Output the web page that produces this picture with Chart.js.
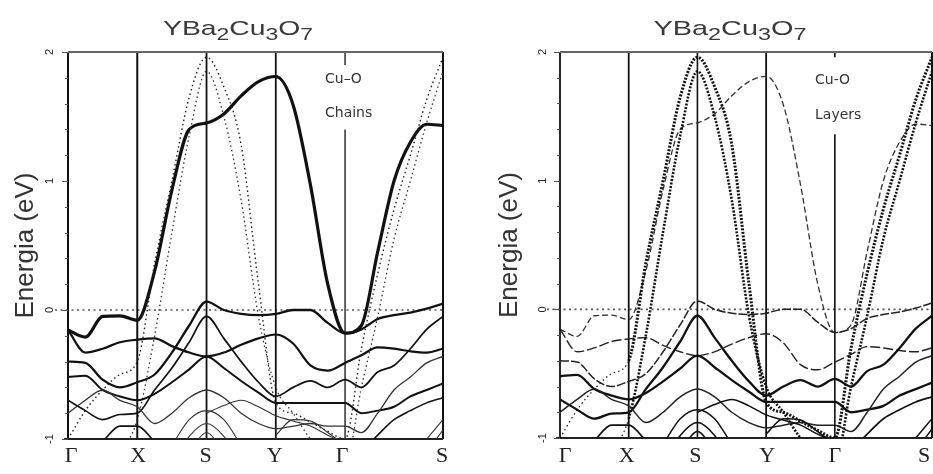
<!DOCTYPE html>
<html>
<head>
<meta charset="utf-8">
<script src="https://cdn.jsdelivr.net/npm/chart.js@4/dist/chart.umd.min.js"></script>
<style>
  html, body { margin: 0; padding: 0; background: #fff; }
  #wrap { position: relative; width: 933px; height: 474px; overflow: hidden; }
  canvas { position: absolute; top: 0; }
</style>
</head>
<body>
<div id="wrap">
  <canvas id="chains" width="466" height="474" style="left:0"></canvas>
  <canvas id="layers" width="467" height="474" style="left:466px"></canvas>
</div>
<script>
// k-path: G-X-S-Y-G-S (G-S is the diagonal, sqrt(2) long)
const _ = null;
const kPath = [0, 0.25, 0.5, 0.75, 1, 1.25, 1.5, 1.75, 2, 2.25, 2.5, 2.75, 3, 3.25, 3.5, 3.75, 4, 4.236, 4.471, 4.707, 4.943, 5.178, 5.414];
const kMarks = [0, 1, 2, 3, 4, 5.414];
const kLabels = ['Γ', 'X', 'S', 'Y', 'Γ', 'S'];
const energyTicks = [-1, 0, 1, 2];
const yAxisTitle = 'Energia (eV)';
const formula = [['YBa', false], ['2', true], ['Cu', false], ['3', true], ['O', false], ['7', true]];

// band energies (eV) read at every kPath point
const bandChain  = [-0.155, -0.21, -0.05, -0.045, -0.08, 0.30, 0.93, 1.40, 1.45, 1.52, 1.66, 1.77, 1.81, 1.59, 0.97, 0.20, -0.18, -0.12, 0.45, 1.00, 1.30, 1.44, 1.43];
const bandLayerA = [-1.0, -0.78, -0.62, -0.50, -0.40, 0.36, 1.00, 1.65, 1.96, 1.73, 1.28, 0.20, -0.72, -0.80, -0.87, -0.94, -1.0, -0.30, 0.28, 0.78, 1.20, 1.63, 1.96];
const bandLayerB = [-1.3, -1.25, -1.2, -1.1, -0.85, -0.20, 0.60, 1.35, 1.85, 1.50, 0.85, -0.05, -0.60, -0.80, -1.0, -1.15, -1.2, -0.60, -0.05, 0.55, 1.00, 1.45, 1.85];
const bandP      = [-0.40, -0.41, -0.54, -0.60, -0.56, -0.50, -0.33, -0.12, 0.065, 0.0, -0.03, -0.04, -0.03, 0.0, 0.0, -0.10, -0.18, -0.15, -0.07, -0.04, -0.02, 0.01, 0.05];
const band2      = [-0.155, -0.33, -0.30, -0.25, -0.23, -0.22, -0.28, -0.33, -0.36, -0.33, -0.27, -0.22, -0.19, -0.26, -0.43, -0.47, -0.41, -0.35, -0.29, -0.30, -0.32, -0.33, -0.30];
const band4      = [-0.70, -0.78, -0.85, -0.81, -0.80, -0.62, -0.45, -0.25, -0.05, -0.22, -0.40, -0.56, -0.67, -0.60, -0.55, -0.60, -0.54, -0.60, -0.48, -0.43, -0.30, -0.15, -0.05];
const band5      = [-0.52, -0.51, -0.62, -0.67, -0.70, -0.65, -0.56, -0.46, -0.36, -0.45, -0.55, -0.64, -0.72, -0.72, -0.72, -0.72, -0.72, -0.80, -0.78, -0.75, -0.67, -0.62, -0.57];
const band6      = [-0.80, -0.70, -0.62, -0.70, -0.75, -0.88, -0.80, -0.68, -0.62, -0.68, -0.80, -0.88, -0.92, -0.90, -0.88, -0.90, -0.90, -0.95, -0.80, -0.62, -0.52, -0.41, -0.36];
const band7      = [_, _, -1.02, -0.90, -0.90, -1.02, _, _, _, _, _, _, _, _, _, _, _, -1.10, -0.97, -0.85, -0.78, -0.72, -0.68];
const band8      = [_, _, _, _, _, _, _, _, -0.80, -0.74, -0.70, -0.75, -0.82, -0.86, -0.90, -0.97, -1.03, _, _, _, _, _, _];
const arcS1      = [_, _, _, _, _, _, -1.05, -0.85, -0.78, -0.85, -1.05, _, _, _, _, _, _, _, _, _, _, -1.0, -0.85];
const arcS2      = [_, _, _, _, _, _, -1.2, -0.98, -0.88, -0.98, -1.2, _, _, _, _, _, _, _, _, _, _, -1.1, -0.93];
const arcS3      = [_, _, _, _, _, _, _, -1.1, -0.95, -1.1, _, _, _, _, _, _, _, _, _, _, _, _, _];
const arcY       = [_, _, _, _, _, _, _, _, _, _, _, _, -0.97, -0.85, -0.86, -0.95, -1.05, _, _, _, _, _, _];

const bandList = [
  ['arcS1', arcS1], ['arcS2', arcS2], ['arcS3', arcS3], ['arcY', arcY], ['band8', band8],
  ['band7', band7], ['band6', band6], ['band5', band5], ['band4', band4],
  ['band2', band2], ['bandP', bandP],
  ['layerA', bandLayerA], ['layerB', bandLayerB], ['chain', bandChain]
];

const chainsStyle = {
  chain: { w: 3.2 },
  layerA: { w: 1.4, dash: [1.5, 3], c: '#222' },
  layerB: { w: 1.3, dash: [1.5, 3], c: '#333' },
  bandP: { w: 2.3 },
  band2: { w: 2.2 },
  band4: { w: 1.7 },
  band5: { w: 2.0 },
  band6: { w: 1.3, c: '#333' },
  band7: { w: 1.6 },
  other: { w: 1.1, c: '#333' }
};
const layersStyle = {
  chain: { w: 1.3, dash: [6, 3], c: '#333' },
  layerA: { w: 3.0, dash: [2, 1.5], thinBefore: 1 },
  layerB: { w: 2.6, dash: [2, 1.5], thinBefore: 1 },
  bandP: { w: 1.5, dash: [9, 2], c: '#222' },
  band2: { w: 1.4, dash: [10, 3], c: '#222' },
  band4: { w: 2.3 },
  band5: { w: 2.3 },
  band6: { w: 1.5, c: '#222' },
  band7: { w: 1.8 },
  other: { w: 1.5 }
};

function bandSets(style) {
  return bandList.map(([name, e]) => {
    const s = style[name] || style.other;
    const set = {
      label: name,
      data: kPath.map((k, i) => ({ x: k, y: e[i] })),
      borderColor: s.c || '#111',
      borderWidth: s.w,
      borderDash: s.dash || [],
      pointRadius: 0,
      cubicInterpolationMode: 'monotone',
      spanGaps: false,
      clip: 0,
      fill: false
    };
    if (s.thinBefore) {
      set.segment = {
        borderWidth: c => (c.p1.parsed.x <= s.thinBefore ? 1.2 : undefined),
        borderDash: c => (c.p1.parsed.x <= s.thinBefore ? [1.5, 3] : undefined)
      };
    }
    return set;
  });
}

const panelDecor = {
  id: 'panelDecor',
  beforeDatasetsDraw(chart, args, o) {
    const { ctx, chartArea: a, scales: { x, y } } = chart;
    ctx.save();
    // Fermi level
    const y0 = y.getPixelForValue(0);
    ctx.strokeStyle = '#555';
    ctx.lineWidth = 1.6;
    ctx.setLineDash([2, 3.5]);
    ctx.beginPath();
    ctx.moveTo(a.left - 13, y0);
    ctx.lineTo(a.right, y0);
    ctx.stroke();
    ctx.setLineDash([]);
    // symmetry lines
    ctx.strokeStyle = '#111';
    kMarks.forEach((k, i) => {
      const px = x.getPixelForValue(k);
      ctx.lineWidth = o.vWidths[i];
      ctx.beginPath();
      if (i === 4) {
        ctx.moveTo(px, a.top);
        ctx.lineTo(px, y.getPixelForValue(o.gap[0]));
        ctx.moveTo(px, y.getPixelForValue(o.gap[1]));
        ctx.lineTo(px, a.bottom);
      } else {
        ctx.moveTo(px, a.top);
        ctx.lineTo(px, a.bottom);
      }
      ctx.stroke();
    });
    // frame top / bottom
    ctx.strokeStyle = '#666';
    ctx.lineWidth = 2;
    ctx.beginPath();
    ctx.moveTo(a.left, a.top);
    ctx.lineTo(a.right, a.top);
    ctx.stroke();
    ctx.strokeStyle = '#222';
    ctx.beginPath();
    ctx.moveTo(a.left - 4, a.bottom);
    ctx.lineTo(a.right, a.bottom);
    ctx.stroke();
    // energy ticks on the left axis
    ctx.strokeStyle = '#555';
    ctx.lineWidth = 1;
    for (let e = -1; e <= 2.001; e += 0.2) {
      const py = Math.round(y.getPixelForValue(e)) + 0.5;
      const major = Math.abs(e - Math.round(e)) < 0.01;
      ctx.beginPath();
      ctx.moveTo(a.left - (major ? 6 : 3), py);
      ctx.lineTo(a.left, py);
      ctx.stroke();
    }
    ctx.restore();
  },
  afterDraw(chart, args, o) {
    const { ctx, chartArea: a, scales: { x, y } } = chart;
    ctx.save();
    ctx.fillStyle = '#222';
    // k-point labels
    ctx.font = '22px "Liberation Serif"';
    ctx.textAlign = 'center';
    ctx.textBaseline = 'middle';
    kMarks.forEach((k, i) => ctx.fillText(kLabels[i], x.getPixelForValue(k) + o.labelShift[i], 456));
    // rotated tick labels
    ctx.font = '11px "Liberation Sans"';
    energyTicks.forEach(e => {
      ctx.save();
      ctx.translate(o.tickX, y.getPixelForValue(e));
      ctx.rotate(-Math.PI / 2);
      ctx.fillText(String(e), 0, 0);
      ctx.restore();
    });
    // axis title
    ctx.save();
    ctx.font = '26px "Liberation Sans"';
    ctx.fillStyle = '#333';
    ctx.textBaseline = 'alphabetic';
    ctx.translate(o.axisTitleX, (a.top + a.bottom) / 2);
    ctx.rotate(-Math.PI / 2);
    ctx.fillText(yAxisTitle, 0, 0);
    ctx.restore();
    // formula title with subscripts
    const big = '21px "Liberation Sans"', small = '17px "Liberation Sans"';
    let w = 0;
    formula.forEach(([t, sub]) => { ctx.font = sub ? small : big; w += ctx.measureText(t).width; });
    ctx.save();
    ctx.fillStyle = '#3a3a3a';
    ctx.textAlign = 'left';
    ctx.textBaseline = 'alphabetic';
    ctx.translate(o.titleX - o.titleW / 2, 35);
    ctx.scale(o.titleW / w, 1);
    let cx = 0;
    formula.forEach(([t, sub]) => {
      ctx.font = sub ? small : big;
      ctx.fillText(t, cx, sub ? 5 : 0);
      cx += ctx.measureText(t).width;
    });
    ctx.restore();
    // panel note
    ctx.font = '14px "DejaVu Sans"';
    ctx.fillStyle = '#333';
    ctx.textAlign = 'left';
    ctx.textBaseline = 'middle';
    o.note.forEach((t, i) => ctx.fillText(t, o.noteX, o.noteY[i]));
    ctx.restore();
  }
};

function makePanel(id, style, padding, decor) {
  return new Chart(document.getElementById(id), {
    type: 'line',
    data: { datasets: bandSets(style) },
    options: {
      responsive: false,
      devicePixelRatio: 1,
      animation: false,
      events: [],
      layout: { padding },
      scales: {
        x: { type: 'linear', min: 0, max: 5.414, display: false },
        y: { type: 'linear', min: -1, max: 2, display: false }
      },
      plugins: { legend: { display: false }, tooltip: { enabled: false }, panelDecor: decor }
    },
    plugins: [panelDecor]
  });
}

makePanel('chains', chainsStyle, { left: 68, right: 23, top: 52, bottom: 35 }, {
  vWidths: [2, 2, 1.8, 1.8, 1.3, 2],
  gap: [1.9, 1.4],
  labelShift: [3, 1, -1, -1, -3, -1],
  tickX: 50, axisTitleX: 33,
  titleX: 238, titleW: 150,
  note: ['Cu–O', 'Chains'], noteX: 325, noteY: [79, 113]
});
makePanel('layers', layersStyle, { left: 94, right: 1, top: 52, bottom: 36 }, {
  vWidths: [1.8, 1.8, 1.6, 1.8, 1.6, 2],
  gap: [1.96, 1.36],
  labelShift: [5, -2, -2, 1, 0, -8],
  tickX: 77, axisTitleX: 51,
  titleX: 264, titleW: 153,
  note: ['Cu-O', 'Layers'], noteX: 349, noteY: [80, 115]
});
</script>
</body>
</html>
